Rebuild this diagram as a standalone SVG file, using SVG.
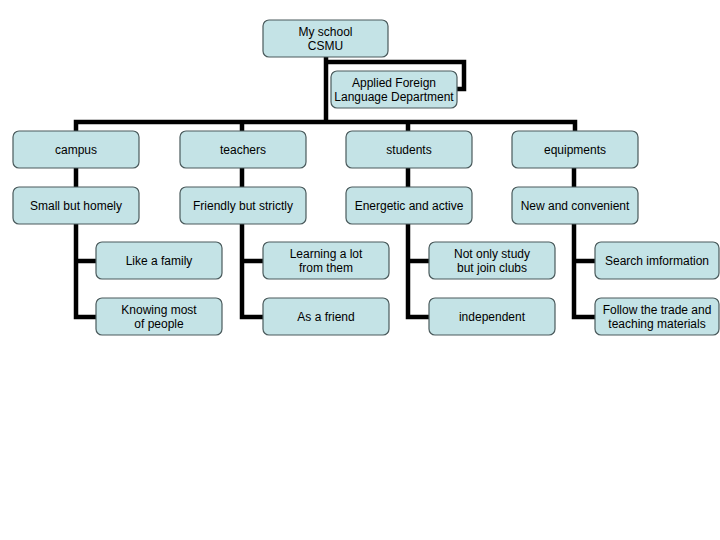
<svg xmlns="http://www.w3.org/2000/svg" width="720" height="540" viewBox="0 0 720 540">
<style>
.n rect{fill:#c4e3e6;stroke:#4a5a5c;stroke-width:1.2}
.n text{font-family:"Liberation Sans",Arial,sans-serif;font-size:12px;fill:#000;text-anchor:middle}
.c path{fill:none;stroke:#000;stroke-width:4.5;stroke-linejoin:miter}
</style>
<rect width="720" height="540" fill="#fff"/>
<g class="c">
<path d="M326 57V122M326 62H464V89H456"/>
<path d="M76 131V122H575V131M242 122V131M408 122V131"/>
<path d="M76 168V187M242 168V187M408 168V187M574 168V187"/>
<path d="M76 224V317H96M76 261H96"/>
<path d="M242 224V317H263M242 261H263"/>
<path d="M408 224V317H429M408 261H429"/>
<path d="M574 224V317H595M574 261H595"/>
</g>
<g class="n" id="root"><rect x="263" y="20" width="125" height="37" rx="6"/><text x="325.5" y="36">My school</text><text x="325.5" y="50">CSMU</text></g>
<g class="n" id="dept"><rect x="331" y="71" width="126" height="37" rx="6"/><text x="394" y="87">Applied Foreign</text><text x="394" y="101">Language Department</text></g>
<g class="n" id="campus"><rect x="13" y="131" width="126" height="37" rx="6"/><text x="76" y="154">campus</text></g>
<g class="n" id="teachers"><rect x="180" y="131" width="126" height="37" rx="6"/><text x="243" y="154">teachers</text></g>
<g class="n" id="students"><rect x="346" y="131" width="126" height="37" rx="6"/><text x="409" y="154">students</text></g>
<g class="n" id="equipments"><rect x="512" y="131" width="126" height="37" rx="6"/><text x="575" y="154">equipments</text></g>
<g class="n" id="homely"><rect x="13" y="187" width="126" height="37" rx="6"/><text x="76" y="210">Small but homely</text></g>
<g class="n" id="strictly"><rect x="180" y="187" width="126" height="37" rx="6"/><text x="243" y="210">Friendly but strictly</text></g>
<g class="n" id="active"><rect x="346" y="187" width="126" height="37" rx="6"/><text x="409" y="210">Energetic and active</text></g>
<g class="n" id="convenient"><rect x="512" y="187" width="126" height="37" rx="6"/><text x="575" y="210">New and convenient</text></g>
<g class="n" id="family"><rect x="96" y="242" width="126" height="37" rx="6"/><text x="159" y="265">Like a family</text></g>
<g class="n" id="knowing"><rect x="96" y="298" width="126" height="37" rx="6"/><text x="159" y="314">Knowing most</text><text x="159" y="328">of people</text></g>
<g class="n" id="learning"><rect x="263" y="242" width="126" height="37" rx="6"/><text x="326" y="258">Learning a lot</text><text x="326" y="272">from them</text></g>
<g class="n" id="friend"><rect x="263" y="298" width="126" height="37" rx="6"/><text x="326" y="321">As a friend</text></g>
<g class="n" id="clubs"><rect x="429" y="242" width="126" height="37" rx="6"/><text x="492" y="258">Not only study</text><text x="492" y="272">but join clubs</text></g>
<g class="n" id="independent"><rect x="429" y="298" width="126" height="37" rx="6"/><text x="492" y="321">independent</text></g>
<g class="n" id="search"><rect x="595" y="242" width="124" height="37" rx="6"/><text x="657" y="265">Search imformation</text></g>
<g class="n" id="follow"><rect x="595" y="298" width="124" height="37" rx="6"/><text x="657" y="314">Follow the trade and</text><text x="657" y="328">teaching materials</text></g>
</svg>
